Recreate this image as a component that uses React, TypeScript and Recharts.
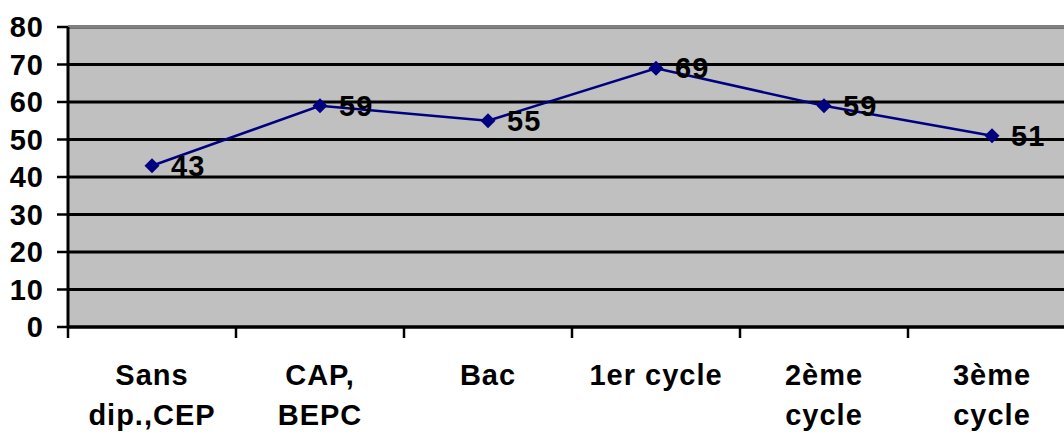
import { CartesianGrid, LabelList, Line, LineChart, ReferenceLine, XAxis, YAxis } from 'recharts';

const categories = ['Sans\ndip.,CEP', 'CAP,\nBEPC', 'Bac', '1er cycle', '2ème\ncycle', '3ème\ncycle'];
const values = [43, 59, 55, 69, 59, 51];
const yTicks = [0, 10, 20, 30, 40, 50, 60, 70, 80];

const data = categories.map((label, i) => ({ label, value: values[i] }));

const FONT = '"Liberation Sans", Arial, sans-serif';
const HALF_BAND = 84;

function CategoryTick(props: any) {
  const { x, y, payload } = props;
  const lines = String(payload.value).split('\n');
  return (
    <g>
      <line x1={x - HALF_BAND} x2={x - HALF_BAND} y1={y} y2={y + 11} stroke="#000" strokeWidth={2.5} />
      <text x={x} y={y + 58} textAnchor="middle" fontFamily={FONT} fontWeight="bold" fontSize={29} letterSpacing={1} fill="#000">
        {lines.map((line, i) => (
          <tspan key={i} x={x} dy={i === 0 ? 0 : 40}>
            {line}
          </tspan>
        ))}
      </text>
    </g>
  );
}

function Diamond(props: any) {
  const { cx, cy, index } = props;
  const r = 7.5;
  return <polygon key={index} points={`${cx},${cy - r} ${cx + r},${cy} ${cx},${cy + r} ${cx - r},${cy}`} fill="#000080" />;
}

function ValueLabel(props: any) {
  const { x, y, value } = props;
  return (
    <text x={x + 19} y={y} dominantBaseline="central" fontFamily={FONT} fontWeight="bold" fontSize={29} letterSpacing={1} fill="#000">
      {value}
    </text>
  );
}

export default function App() {
  return (
    <div style={{ position: 'fixed', left: 0, top: 0, width: 1064, height: 432, overflow: 'hidden', background: '#fff' }}>
      <LineChart width={1076} height={432} data={data} margin={{ top: 27, right: 0, left: 0, bottom: 0 }}>
        <CartesianGrid vertical={false} fill="#C0C0C0" fillOpacity={1} stroke="#000" strokeWidth={3} />
        <ReferenceLine y={80} stroke="#808080" strokeWidth={3} />
        <XAxis
          dataKey="label"
          scale="band"
          height={105}
          tickSize={0}
          tickMargin={0}
          tickLine={false}
          axisLine={{ stroke: '#000', strokeWidth: 3 }}
          tick={<CategoryTick />}
          interval={0}
        />
        <YAxis
          width={68}
          domain={[0, 80]}
          ticks={yTicks}
          interval={0}
          tickSize={11}
          tickMargin={13}
          axisLine={{ stroke: '#000', strokeWidth: 3 }}
          tickLine={{ stroke: '#000', strokeWidth: 2.5 }}
          tick={{ fill: '#000', fontFamily: FONT, fontWeight: 'bold', fontSize: 29, letterSpacing: 1 }}
        />
        <Line dataKey="value" stroke="#000080" strokeWidth={2.5} dot={<Diamond />} activeDot={false} isAnimationActive={false}>
          <LabelList dataKey="value" content={<ValueLabel />} />
        </Line>
      </LineChart>
    </div>
  );
}
